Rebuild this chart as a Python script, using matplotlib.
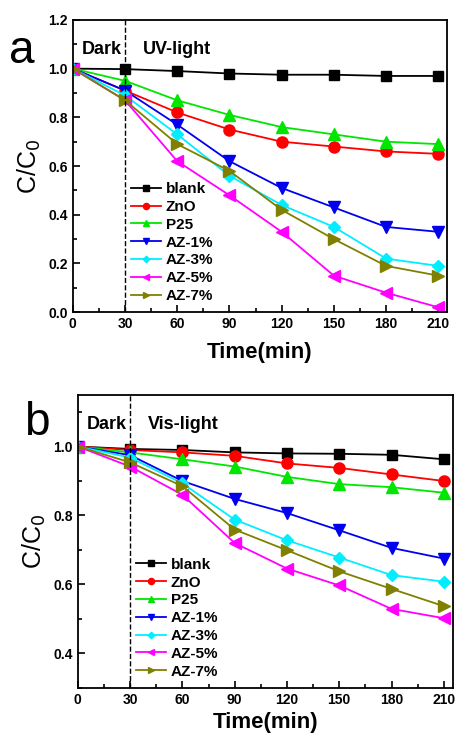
import numpy as np
import matplotlib
matplotlib.use("Agg")
import matplotlib.pyplot as plt
from matplotlib.ticker import MultipleLocator

plt.rcParams["font.family"] = ["Liberation Sans", "DejaVu Sans"]

time = [0, 30, 60, 90, 120, 150, 180, 210]
labels = ["blank", "ZnO", "P25", "AZ-1%", "AZ-3%", "AZ-5%", "AZ-7%"]

# panel a: UV-light
uv_blank = [1.0, 0.998, 0.99, 0.98, 0.975, 0.975, 0.97, 0.97]
uv_zno = [1.0, 0.91, 0.82, 0.75, 0.70, 0.68, 0.66, 0.65]
uv_p25 = [1.0, 0.95, 0.87, 0.81, 0.76, 0.73, 0.70, 0.69]
uv_az1 = [1.0, 0.91, 0.77, 0.62, 0.51, 0.43, 0.35, 0.33]
uv_az3 = [1.0, 0.89, 0.73, 0.56, 0.44, 0.35, 0.22, 0.19]
uv_az5 = [1.0, 0.87, 0.62, 0.48, 0.33, 0.15, 0.08, 0.02]
uv_az7 = [1.0, 0.87, 0.69, 0.58, 0.42, 0.30, 0.19, 0.15]

# panel b: Vis-light
vis_blank = [1.0, 0.993, 0.99, 0.983, 0.98, 0.979, 0.976, 0.963]
vis_zno = [1.0, 0.99, 0.983, 0.973, 0.951, 0.938, 0.919, 0.90]
vis_p25 = [1.0, 0.983, 0.963, 0.942, 0.912, 0.891, 0.882, 0.866]
vis_az1 = [1.0, 0.975, 0.90, 0.848, 0.807, 0.757, 0.706, 0.675]
vis_az3 = [1.0, 0.968, 0.893, 0.788, 0.728, 0.678, 0.627, 0.608]
vis_az5 = [1.0, 0.942, 0.86, 0.72, 0.646, 0.597, 0.529, 0.502]
vis_az7 = [1.0, 0.954, 0.885, 0.759, 0.699, 0.638, 0.587, 0.537]

colors = ["black", "#ff0000", "#00e600", "#0000ee", "#00eeff", "#ff00ff", "#808000"]
markers = ["s", "o", "^", "v", "D", "<", ">"]
msizes = [7, 8, 8, 8, 6, 8, 8]


def draw_panel(ax, series, letter, letter_pos, light, ylim, xpad):
    for y, lab, c, m, ms in zip(series, labels, colors, markers, msizes):
        ax.plot(time, y, color=c, marker=m, markersize=ms, linewidth=1.3,
                label=lab)
    ax.axvline(30, color="black", linestyle="--", linewidth=1.0)

    ax.set_xlim(0, 215)
    ax.set_ylim(*ylim)
    ax.xaxis.set_major_locator(MultipleLocator(30))
    ax.xaxis.set_minor_locator(MultipleLocator(15))
    ax.yaxis.set_major_locator(MultipleLocator(0.2))
    ax.yaxis.set_minor_locator(MultipleLocator(0.1))
    ax.tick_params(which="both", direction="in", width=1.2)
    ax.tick_params(which="major", length=5, labelsize=10)
    ax.tick_params(which="minor", length=3)
    for lbl in ax.get_xticklabels() + ax.get_yticklabels():
        lbl.set_fontweight("bold")
    for sp in ax.spines.values():
        sp.set_linewidth(1.3)

    ax.set_xlabel("Time(min)", fontsize=16, fontweight="bold", labelpad=xpad)
    ax.set_ylabel("C/C$_0$", fontsize=18, labelpad=4)

    ytop = ylim[1]
    yspan = ylim[1] - ylim[0]
    ax.text(5, ytop - 0.1 * yspan, "Dark", fontsize=13, fontweight="bold",
            va="center")
    ax.text(40, ytop - 0.1 * yspan, light, fontsize=13, fontweight="bold",
            va="center")
    ax.text(letter_pos[0], letter_pos[1], letter, transform=ax.transAxes,
            fontsize=33, va="center", ha="left")

    leg = ax.legend(loc="lower left", bbox_to_anchor=(0.13, 0.0), frameon=False,
                    fontsize=11, markerscale=0.55, handlelength=2.0,
                    handletextpad=0.3, labelspacing=0.25, borderaxespad=0.2)
    for t in leg.get_texts():
        t.set_fontweight("bold")


fig = plt.figure(figsize=(4.58, 7.38), dpi=100)
ax_a = fig.add_axes([0.159, 0.577, 0.817, 0.396])
ax_b = fig.add_axes([0.170, 0.068, 0.818, 0.397])

draw_panel(ax_a, [uv_blank, uv_zno, uv_p25, uv_az1, uv_az3, uv_az5, uv_az7],
           "a", (-0.17, 0.895), "UV-light", (0.0, 1.2), 8)
draw_panel(ax_b, [vis_blank, vis_zno, vis_p25, vis_az1, vis_az3, vis_az5, vis_az7],
           "b", (-0.145, 0.905), "Vis-light", (0.3, 1.15), 4)

fig.savefig("out.png", dpi=100)
